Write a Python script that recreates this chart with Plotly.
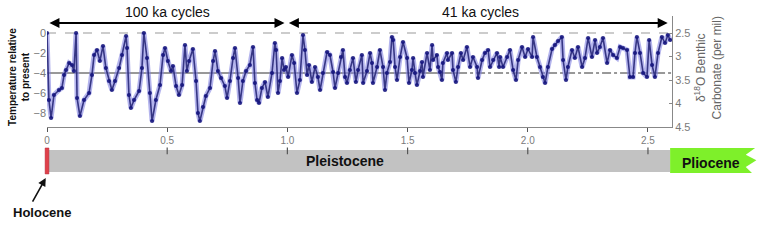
import plotly.graph_objects as go

# Age (thousand years before present) and temperature relative to present (deg C)
age_ka = [0, 8, 17, 29, 50, 62, 71, 79, 92, 104, 112, 121, 125, 137, 154, 175, 187, 196, 208, 220,
          233, 245, 258, 270, 283, 300, 312, 329, 333, 341, 349, 362, 383, 395, 403, 416, 428, 437,
          453, 470, 483, 491, 503, 516, 524, 537, 549, 562, 574, 582, 591, 607, 620, 628, 636, 649,
          661, 678, 691, 699, 711, 724, 740, 749, 761, 774, 782, 795, 803, 815, 828, 844, 857, 865,
          874, 882, 894, 907, 919, 936, 948, 953, 961, 969, 978, 986, 994, 1003, 1019, 1028, 1040,
          1052, 1065, 1073, 1082, 1090, 1102, 1115, 1127, 1136, 1148, 1165, 1177, 1190, 1198, 1211,
          1223, 1231, 1240, 1248, 1260, 1273, 1285, 1294, 1310, 1315, 1331, 1344, 1352, 1356, 1373,
          1385, 1398, 1406, 1414, 1427, 1435, 1440, 1448, 1456, 1469, 1481, 1498, 1506, 1518, 1523,
          1531, 1539, 1552, 1560, 1564, 1581, 1593, 1602, 1606, 1622, 1627, 1635, 1643, 1647, 1664,
          1668, 1685, 1689, 1701, 1710, 1722, 1731, 1747, 1760, 1772, 1789, 1793, 1810, 1822, 1835,
          1843, 1856, 1872, 1881, 1885, 1897, 1914, 1926, 1939, 1951, 1960, 1976, 1989, 2001, 2018,
          2022, 2038, 2051, 2063, 2072, 2084, 2101, 2113, 2126, 2142, 2147, 2159, 2167, 2184, 2196,
          2209, 2226, 2238, 2251, 2267, 2280, 2288, 2300, 2313, 2330, 2342, 2355, 2371, 2384, 2396,
          2413, 2425, 2438, 2446, 2454, 2467, 2480, 2496, 2505, 2517, 2529, 2542, 2558, 2571, 2583,
          2592]
temp = [0, -6.7, -8.5, -6.2, -5.7, -5.5, -4.2, -3.7, -3.0, -3.2, -3.8, 0, -6.5, -8.3, -6.7, -6.0,
        -4.2, -2.2, -1.7, -2.8, -1.3, -3.5, -4.8, -5.7, -4.8, -3.5, -2.2, -0.3, -1.5, -6.2, -7.5,
        -6.7, -5.8, -3.5, 0, -2.5, -6.0, -8.8, -6.7, -5.2, -2.2, -1.5, -2.8, -3.8, -3.3, -5.3, -6.2,
        -5.2, -1.2, -3.8, -2.8, -1.6, -4.8, -8.0, -8.8, -7.4, -6.3, -5.5, -2.8, -1.8, -3.8, -4.5,
        -5.3, -6.5, -4.8, -2.5, -1.5, -4.5, -7.0, -4.8, -3.8, -3.2, -1.4, -5.0, -6.7, -7.0, -5.5,
        -4.9, -6.4, -4.0, -1.0, -1.7, -6.0, -4.8, -2.5, -3.7, -3.4, -4.4, -2.2, -3.0, -6.0, -4.7,
        -0.2, -1.7, -4.2, -3.2, -4.9, -3.4, -4.4, -5.7, -4.0, -1.9, -2.2, -3.9, -5.5, -4.0, -2.4,
        -1.7, -4.4, -5.0, -3.7, -2.5, -4.9, -3.7, -2.2, -5.0, -3.8, -2.0, -3.0, -5.0, -3.4, -1.7,
        -3.4, -5.7, -4.0, -2.9, -0.4, -0.7, -3.4, -4.7, -2.4, -0.9, -2.5, -5.0, -3.7, -2.5, -4.0,
        -5.2, -3.8, -2.9, -4.4, -2.0, -3.7, -1.2, -2.7, -2.2, -3.4, -3.9, -4.7, -3.0, -2.0, -2.7,
        -2.0, -3.7, -4.9, -3.4, -2.0, -2.7, -1.4, -3.4, -2.4, -3.4, -4.5, -2.7, -2.0, -1.7, -3.4,
        -2.7, -2.0, -3.4, -2.4, -3.4, -2.4, -1.7, -3.7, -4.7, -2.7, -1.4, -2.4, -1.6, -2.4, -0.4,
        -2.4, -3.4, -4.4, -5.0, -3.4, -1.6, -1.2, -0.8, -0.4, -2.7, -4.7, -3.4, -1.7, -2.5, -1.4,
        -3.4, -2.5, -0.5, -2.4, -0.7, -2.0, -1.4, -0.5, -3.0, -1.7, -2.2, -2.5, -1.4, -1.5, -1.7,
        -4.4, -4.4, -2.0, -0.4, -2.0, -4.0, -4.4, -0.7, -3.2, -4.4, -2.0, -0.4, -1.0, -0.2, -0.7]

age_ma = [a / 1000 for a in age_ka]

x_ticks = [0, 0.5, 1.0, 1.5, 2.0, 2.5]
x_tick_text = ["0", "0.5", "1.0", "1.5", "2.0", "2.5"]
temp_ticks = [0, -2, -4, -6, -8]
d18o_ticks = [2.5, 3, 3.5, 4, 4.5]
d18o_tick_text = ["2.5", "3", "3.5", "4", "4.5"]

FONT = "Liberation Sans, Arial, sans-serif"
GRAY = "#7a7a7a"

fig = go.Figure()
fig.add_trace(go.Scatter(x=age_ma, y=temp, mode="lines",
                         line=dict(color="rgba(130,130,225,0.6)", width=5),
                         hoverinfo="skip", showlegend=False))
fig.add_trace(go.Scatter(x=age_ma, y=temp, mode="lines",
                         line=dict(color="rgba(40,40,120,0.9)", width=1.6),
                         hoverinfo="skip", showlegend=False))
fig.add_trace(go.Scatter(x=age_ma, y=temp, mode="markers",
                         marker=dict(color="#16167e", size=4.2, opacity=0.9),
                         hoverinfo="skip", showlegend=False))
fig.add_trace(go.Scatter(x=[None], y=[None], yaxis="y2", hoverinfo="skip", showlegend=False))

shapes = [
    # reference lines
    dict(type="line", xref="x", yref="y", x0=0, x1=2.6, y0=0, y1=0,
         line=dict(color="#999999", width=1, dash="dash"), layer="below"),
    dict(type="line", xref="x", yref="y", x0=0, x1=1.71, y0=-4, y1=-4,
         line=dict(color="#333333", width=1), layer="below"),
    dict(type="line", xref="x", yref="y", x0=1.71, x1=2.6, y0=-4, y1=-4,
         line=dict(color="#333333", width=1, dash="dashdot"), layer="below"),
    # epoch bars
    dict(type="rect", xref="paper", yref="paper", x0=0, x1=0.997, y0=-0.405, y1=-0.207,
         fillcolor="#c2c2c2", line=dict(width=0)),
    dict(type="path", xref="paper", yref="paper",
         path="M 0.997,-0.189 L 1.133,-0.189 L 1.118,-0.25 L 1.135,-0.30 L 1.118,-0.36 L 1.128,-0.414 L 0.997,-0.414 Z",
         fillcolor="#7ef02a", line=dict(width=0)),
    dict(type="rect", xref="paper", yref="paper", x0=-0.003, x1=0.003, y0=-0.423, y1=-0.189,
         fillcolor="#e0404a", line=dict(color="#b02030", width=0.5)),
]
for xv in x_ticks[1:]:
    shapes.append(dict(type="line", xref="x", yref="paper", x0=xv, x1=xv, y0=-0.185, y1=-0.245,
                       line=dict(color="#555555", width=1.2)))


def label(text, x, y, size, color="#111111", angle=0):
    return dict(text=text, xref="paper", yref="paper", x=x, y=y, xanchor="center",
                yanchor="middle", textangle=angle, showarrow=False,
                font=dict(family=FONT, size=size, color=color))


annotations = [
    label("100 ka cycles", 0.192, 1.036, 14),
    label("41 ka cycles", 0.693, 1.036, 14),
    dict(text="", xref="x", yref="paper", x=0.988, y=0.937, axref="x", ayref="pixel",
         ax=0.004, ay=0, showarrow=True, arrowhead=2, arrowside="end+start", arrowsize=1,
         arrowwidth=2, arrowcolor="#000000"),
    dict(text="", xref="x", yref="paper", x=2.582, y=0.937, axref="x", ayref="pixel",
         ax=1.0, ay=0, showarrow=True, arrowhead=2, arrowside="end+start", arrowsize=1,
         arrowwidth=2, arrowcolor="#000000"),
    label("<b>Temperature relative<br>to present</b>", -0.045, 0.45, 10, angle=-90),
    label("δ<sup>18</sup>O Benthic<br>Carbonate (per mil)", 1.058, 0.53, 12, "#666666", -90),
    label("<b>Pleistocene</b>", 0.477, -0.306, 14),
    label("<b>Pliocene</b>", 1.062, -0.324, 14),
    label("<b>Holocene</b>", -0.008, -0.766, 13),
    dict(text="", xref="paper", yref="paper", x=-0.002, y=-0.46, ax=-14, ay=25,
         showarrow=True, arrowhead=2, arrowsize=1, arrowwidth=1.6, arrowcolor="#111111"),
]

fig.update_layout(
    width=760, height=249,
    margin=dict(l=47, r=88, t=16, b=122, pad=0),
    paper_bgcolor="white", plot_bgcolor="white",
    font=dict(family=FONT, size=10, color=GRAY),
    showlegend=False,
    xaxis=dict(range=[0, 2.6], tickvals=x_ticks, ticktext=x_tick_text,
               showline=True, linecolor="#888888", linewidth=1,
               ticks="outside", ticklen=4, tickcolor="#555555",
               showgrid=False, zeroline=False, tickfont=dict(size=10, color=GRAY)),
    yaxis=dict(range=[-9.4, 1.7], tickvals=temp_ticks, showline=False,
               showgrid=False, zeroline=False, ticks="", tickfont=dict(size=11, color=GRAY)),
    yaxis2=dict(overlaying="y", side="right", range=[4.5, 2.138], tickvals=d18o_ticks,
                ticktext=d18o_tick_text, showline=True, linecolor="#888888", linewidth=1,
                ticks="inside", ticklen=3, tickcolor="#888888", showgrid=False,
                zeroline=False, tickfont=dict(size=11, color=GRAY)),
    shapes=shapes,
    annotations=annotations,
)

fig.write_html("out.html")
